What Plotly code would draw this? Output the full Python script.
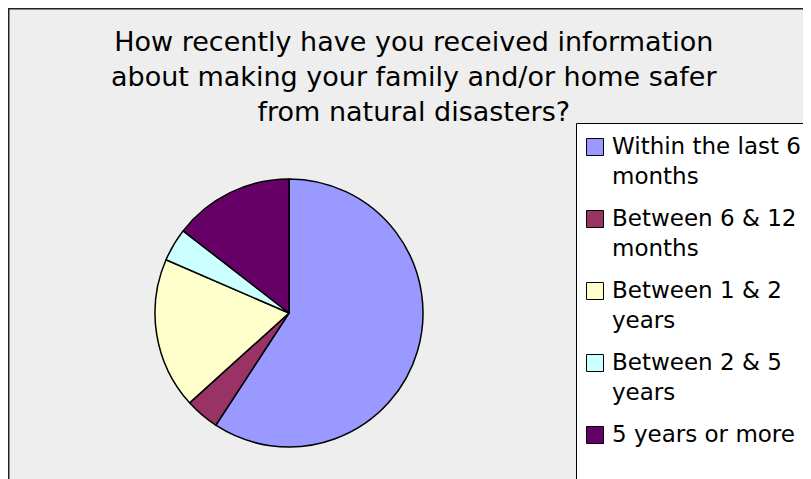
import plotly.graph_objects as go

# the page body has an 8px margin, so the figure starts at (8, 8) of the window
OFF = 8
W, H = 811 - OFF, 479 - OFF

labels = ["Within the last 6<br>months", "Between 6 & 12<br>months", "Between 1 & 2<br>years",
          "Between 2 & 5<br>years", "5 years or more"]
values = [59.2, 4.1, 18.2, 4.0, 14.5]
colors = ["#9999FF", "#993366", "#FFFFCC", "#CCFFFF", "#660066"]

title_text = ("How recently have you received information<br>"
              "about making your family and/or home safer<br>"
              "from natural disasters?")

FONT = "DejaVu Sans"


def px_x(x):
    # window pixel -> paper coordinate
    return (x - OFF) / W


def px_y(y):
    return 1 - (y - OFF) / H


fig = go.Figure()

# pie: center (289, 313), radius 134 px in window pixels
cx, cy, r = 289, 313, 134
fig.add_trace(go.Pie(
    labels=labels,
    values=values,
    sort=False,
    direction="clockwise",
    rotation=0,
    marker=dict(colors=colors, line=dict(color="black", width=1.5)),
    textinfo="none",
    hoverinfo="label+percent",
    showlegend=False,
    domain=dict(x=[px_x(cx - r), px_x(cx + r)], y=[px_y(cy + r), px_y(cy - r)]),
))

shapes = [
    # chart area
    dict(type="rect", xref="paper", yref="paper", layer="below",
         x0=px_x(OFF + 0.75), x1=px_x(W + 40), y0=px_y(H + 40), y1=px_y(OFF + 0.75),
         fillcolor="#EEEEEE", line=dict(color="#222222", width=1.5)),
    # legend box
    dict(type="rect", xref="paper", yref="paper", layer="below",
         x0=px_x(576.5), x1=px_x(W + 40), y0=px_y(H + 40), y1=px_y(123.5),
         fillcolor="white", line=dict(color="black", width=1)),
]

annotations = [
    dict(text=title_text, x=px_x(414), y=px_y(24), xref="paper", yref="paper",
         xanchor="center", yanchor="top", showarrow=False, align="center",
         font=dict(family=FONT, size=27, color="black")),
]

# legend entries
for i, (lab, col) in enumerate(zip(labels, colors)):
    yc = 147 + 72 * i
    shapes.append(dict(type="rect", xref="paper", yref="paper",
                       x0=px_x(586.5), x1=px_x(603.5), y0=px_y(yc + 8.5), y1=px_y(yc - 8.5),
                       fillcolor=col, line=dict(color="black", width=1)))
    annotations.append(dict(text=lab, x=px_x(610), y=px_y(yc - 16), xref="paper", yref="paper",
                            xanchor="left", yanchor="top", showarrow=False, align="left",
                            font=dict(family=FONT, size=23, color="black")))

fig.update_layout(
    width=W, height=H,
    margin=dict(l=0, r=0, t=0, b=0),
    paper_bgcolor="white",
    plot_bgcolor="white",
    shapes=shapes,
    annotations=annotations,
)

fig.write_html("out.html")
